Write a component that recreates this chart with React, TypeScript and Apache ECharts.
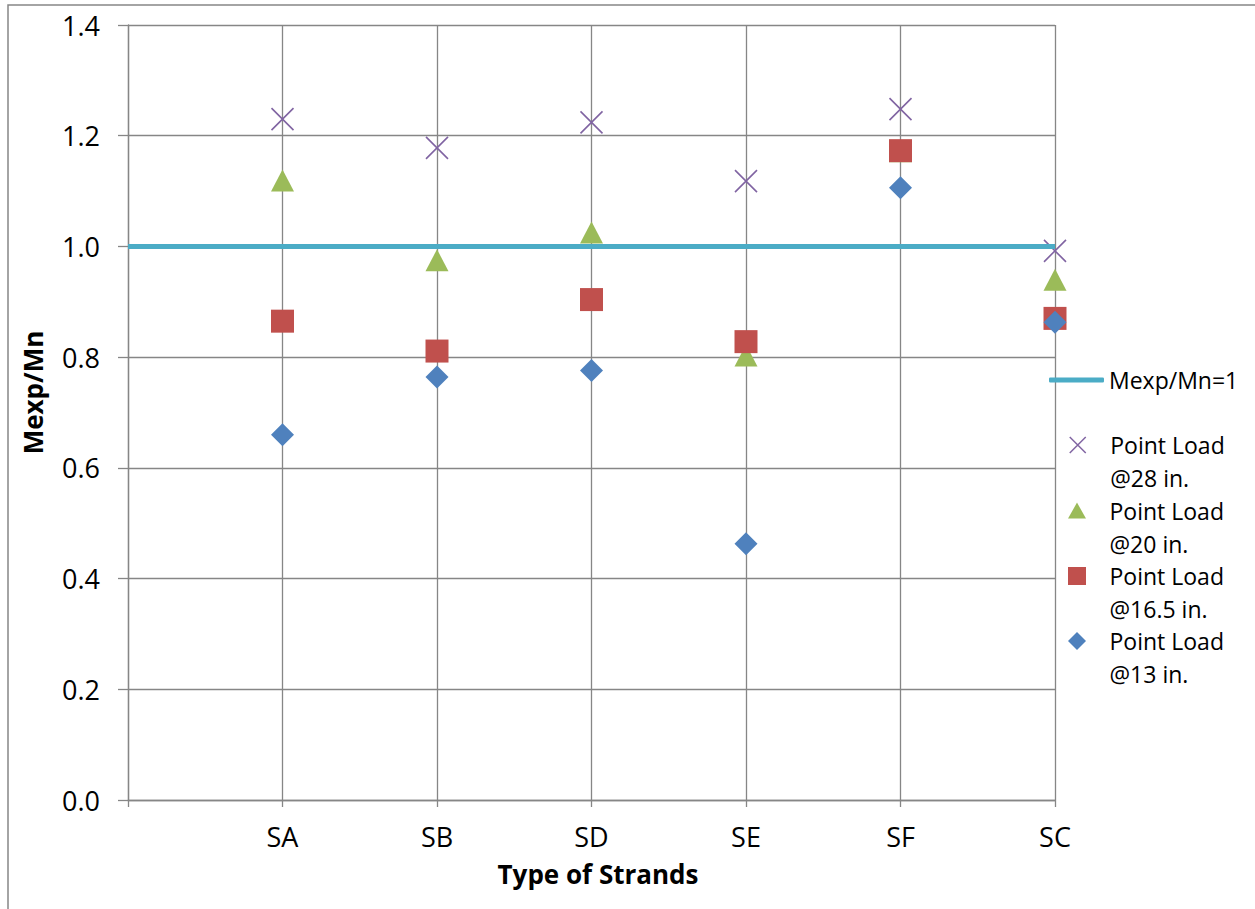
import React, { useEffect, useRef } from "react";
import * as echarts from "echarts";

const categories = ["SA", "SB", "SD", "SE", "SF", "SC"];
const yTicks = [0, 0.2, 0.4, 0.6, 0.8, 1.0, 1.2, 1.4];
const referenceLine = [1.0, 1.0];
const load28 = [1.23, 1.178, 1.224, 1.118, 1.248, 0.992];
const load20 = [1.119, 0.975, 1.025, 0.803, 1.172, 0.94];
const load165 = [0.865, 0.811, 0.904, 0.828, 1.173, 0.87];
const load13 = [0.66, 0.764, 0.776, 0.463, 1.106, 0.863];

const FONT = "'Open Sans', 'Noto Sans', sans-serif";
const GRID_COLOR = "#868686";

const X_PATH = "path://M0,0L10,10M10,0L0,10";
const TRI_PATH = "path://M9,0L18,16L0,16Z";
const SQ_PATH = "path://M0,0L10,0L10,10L0,10Z";
const DIA_PATH = "path://M5,0L10,5L5,10L0,5Z";

const toPoints = (vals: number[]) => vals.map((v, i) => [i + 1, v]);

export default function App() {
  const ref = useRef<HTMLDivElement>(null);
  useEffect(() => {
    if (!ref.current) return;
    const chart = echarts.init(ref.current, null, { renderer: "svg" });
    const legendText = {
      fontFamily: FONT,
      fontSize: 23,
      color: "#000",
      lineHeight: 33,
    };
    const pointLegend = (
      name: string,
      icon: string,
      left: number,
      top: number,
      ih: number,
      itemStyle: any
    ) => ({
      show: true,
      orient: "vertical",
      left,
      top,
      padding: 0,
      itemWidth: 55,
      itemHeight: ih,
      selectedMode: false,
      symbolKeepAspect: true,
      formatter: (n: string) => "\n" + n.replace(" @", "\n@"),
      textStyle: { ...legendText },
      data: [{ name, icon, itemStyle }],
    });
    const option: any = {
      animation: false,
      backgroundColor: "#fff",
      grid: { left: 128, right: 200, top: 25, bottom: 109, containLabel: false },
      graphic: [
        {
          type: "rect",
          shape: { x: 8, y: 5, width: 1400, height: 1000 },
          style: { fill: "none", stroke: GRID_COLOR, lineWidth: 1.5 },
          silent: true,
        },
      ],
      xAxis: {
        type: "value",
        min: 0,
        max: categories.length,
        interval: 1,
        axisLine: { show: true, lineStyle: { color: GRID_COLOR, width: 1.3 } },
        axisTick: { show: true, length: 7, lineStyle: { color: GRID_COLOR, width: 1.3 } },
        splitLine: { show: true, lineStyle: { color: GRID_COLOR, width: 1.3 } },
        axisLabel: {
          formatter: (v: number) => categories[v - 1] ?? "",
          fontFamily: FONT,
          fontSize: 27,
          color: "#000",
          margin: 23,
        },
        name: "Type of Strands",
        nameLocation: "middle",
        nameGap: 61,
        nameTextStyle: {
          fontFamily: FONT,
          fontSize: 26,
          fontWeight: "bold",
          color: "#000",
          padding: [0, 0, 0, 13],
        },
      },
      yAxis: {
        type: "value",
        min: yTicks[0],
        max: yTicks[yTicks.length - 1],
        interval: 0.2,
        axisLine: { show: true, lineStyle: { color: GRID_COLOR, width: 1.3 } },
        axisTick: { show: true, length: 10, lineStyle: { color: GRID_COLOR, width: 1.3 } },
        splitLine: { show: true, lineStyle: { color: GRID_COLOR, width: 1.3 } },
        axisLabel: {
          formatter: (v: number) => v.toFixed(1),
          fontFamily: FONT,
          fontSize: 27,
          color: "#000",
          margin: 28,
        },
        name: "Mexp/Mn",
        nameLocation: "middle",
        nameRotate: 90,
        nameGap: 82,
        nameTextStyle: {
          fontFamily: FONT,
          fontSize: 26,
          fontWeight: "bold",
          color: "#000",
          padding: [0, 0, 0, 40],
        },
      },
      legend: [
        {
          show: true,
          orient: "vertical",
          left: 1049,
          top: 363.5,
          padding: 0,
          itemWidth: 55,
          itemHeight: 5,
          selectedMode: false,
          textStyle: { ...legendText },
          data: [{ name: "Mexp/Mn=1", icon: "roundRect", itemStyle: { color: "#4BACC6" } }],
        },
        pointLegend("Point Load @28 in.", X_PATH, 1069, 395.5, 16, {
          color: "transparent",
          borderColor: "#8064A2",
          borderWidth: 1.5,
          opacity: 1,
        }),
        pointLegend("Point Load @20 in.", TRI_PATH, 1068, 461, 16, { color: "#9BBB59", borderWidth: 0, opacity: 1 }),
        pointLegend("Point Load @16.5 in.", SQ_PATH, 1068, 526.5, 18, { color: "#C0504D", borderWidth: 0, opacity: 1 }),
        pointLegend("Point Load @13 in.", DIA_PATH, 1068, 591.5, 18, { color: "#4F81BD", borderWidth: 0, opacity: 1 }),
      ],
      series: [
        {
          name: "Mexp/Mn=1",
          type: "line",
          data: [
            [0, referenceLine[0]],
            [categories.length, referenceLine[1]],
          ],
          symbol: "none",
          color: "#4BACC6",
          lineStyle: { color: "#4BACC6", width: 5 },
          silent: true,
        },
        {
          name: "Point Load @28 in.",
          type: "scatter",
          data: toPoints(load28),
          symbol: X_PATH,
          symbolSize: 22,
          itemStyle: { color: "transparent", borderColor: "#8064A2", borderWidth: 1.6, opacity: 1 },
        },
        {
          name: "Point Load @20 in.",
          type: "scatter",
          data: toPoints(load20),
          symbol: "triangle",
          symbolSize: [23, 22],
          itemStyle: { color: "#9BBB59", opacity: 1 },
        },
        {
          name: "Point Load @16.5 in.",
          type: "scatter",
          data: toPoints(load165),
          symbol: "rect",
          symbolSize: [23, 23],
          itemStyle: { color: "#C0504D", opacity: 1 },
        },
        {
          name: "Point Load @13 in.",
          type: "scatter",
          data: toPoints(load13),
          symbol: "diamond",
          symbolSize: [23, 23],
          itemStyle: { color: "#4F81BD", opacity: 1 },
        },
      ],
    };
    chart.setOption(option);
    return () => chart.dispose();
  }, []);
  return (
    <div
      ref={ref}
      style={{ position: "absolute", left: 0, top: 0, width: 1255, height: 909 }}
    />
  );
}
